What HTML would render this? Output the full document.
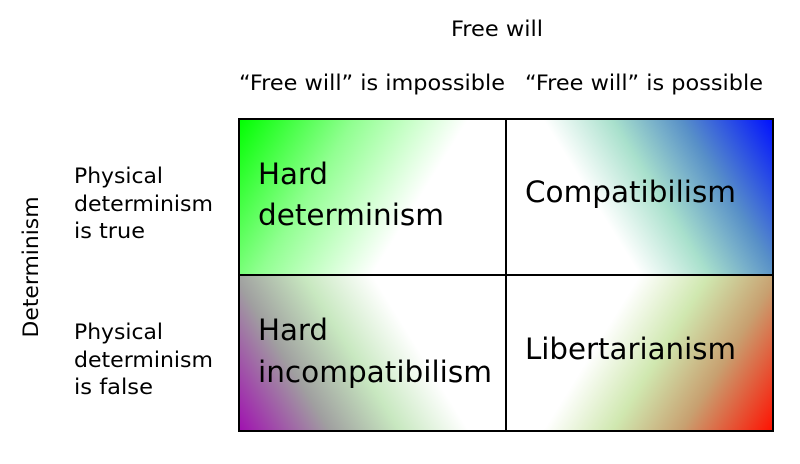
<!DOCTYPE html>
<html><head><meta charset="utf-8"><style>
html,body{margin:0;padding:0;background:#fff;}
svg text{font-family:"DejaVu Sans","Liberation Sans",sans-serif;fill:#000;}
</style></head><body>
<svg width="800" height="459" viewBox="0 0 800 459">
<defs>
<linearGradient id="gTL" gradientUnits="userSpaceOnUse" x1="239" y1="119" x2="405" y2="222">
<stop offset="0" stop-color="#00ff00"/><stop offset="0.5" stop-color="#90ff90"/><stop offset="1" stop-color="#ffffff"/></linearGradient>
<linearGradient id="gTR" gradientUnits="userSpaceOnUse" x1="773" y1="119" x2="607" y2="222">
<stop offset="0" stop-color="#0010ff"/><stop offset="0.4" stop-color="#5890c8"/><stop offset="0.7" stop-color="#a8e0cc"/><stop offset="1" stop-color="#ffffff"/></linearGradient>
<linearGradient id="gBL" gradientUnits="userSpaceOnUse" x1="239" y1="431" x2="405" y2="328">
<stop offset="0" stop-color="#a010b0"/><stop offset="0.4" stop-color="#a0a0a0"/><stop offset="0.7" stop-color="#c8e8c0"/><stop offset="1" stop-color="#ffffff"/></linearGradient>
<linearGradient id="gBR" gradientUnits="userSpaceOnUse" x1="773" y1="431" x2="607" y2="328">
<stop offset="0" stop-color="#ff1000"/><stop offset="0.4" stop-color="#c8a070"/><stop offset="0.7" stop-color="#d0e8b0"/><stop offset="1" stop-color="#ffffff"/></linearGradient>
</defs>
<text x="451" y="36" font-size="21" textLength="92" lengthAdjust="spacingAndGlyphs">Free will</text>
<text x="239" y="90" font-size="21" textLength="266" lengthAdjust="spacingAndGlyphs">“Free will” is impossible</text>
<text x="525" y="90" font-size="21" textLength="238" lengthAdjust="spacingAndGlyphs">“Free will” is possible</text>
<text x="0" y="0" font-size="21" text-anchor="middle" textLength="141" lengthAdjust="spacingAndGlyphs" transform="translate(38,267) rotate(-90)">Determinism</text>
<g font-size="21">
<text x="74" y="183" textLength="89" lengthAdjust="spacingAndGlyphs">Physical</text><text x="74" y="211" textLength="139" lengthAdjust="spacingAndGlyphs">determinism</text><text x="74" y="238" textLength="71" lengthAdjust="spacingAndGlyphs">is true</text></g>
<g font-size="21">
<text x="74" y="339" textLength="89" lengthAdjust="spacingAndGlyphs">Physical</text><text x="74" y="367" textLength="139" lengthAdjust="spacingAndGlyphs">determinism</text><text x="74" y="394" textLength="79" lengthAdjust="spacingAndGlyphs">is false</text></g>
<rect x="239" y="119" width="267" height="156" fill="url(#gTL)"/>
<rect x="506" y="119" width="267" height="156" fill="url(#gTR)"/>
<rect x="239" y="275" width="267" height="156" fill="url(#gBL)"/>
<rect x="506" y="275" width="267" height="156" fill="url(#gBR)"/>
<g stroke="#000" stroke-width="2" fill="none">
<rect x="239" y="119" width="534" height="312"/>
<line x1="506" y1="119" x2="506" y2="431"/>
<line x1="239" y1="275" x2="773" y2="275"/></g>
<g font-size="29">
<text x="258" y="184"><tspan textLength="70" lengthAdjust="spacingAndGlyphs">Hard</tspan><tspan x="258" y="225" textLength="186" lengthAdjust="spacingAndGlyphs">determinism</tspan></text>
<text x="525" y="202" textLength="211" lengthAdjust="spacingAndGlyphs">Compatibilism</text>
<text x="258" y="340"><tspan textLength="70" lengthAdjust="spacingAndGlyphs">Hard</tspan><tspan x="258" y="382" textLength="234" lengthAdjust="spacingAndGlyphs">incompatibilism</tspan></text>
<text x="525" y="359" textLength="211" lengthAdjust="spacingAndGlyphs">Libertarianism</text>
</g>
</svg>
</body></html>
